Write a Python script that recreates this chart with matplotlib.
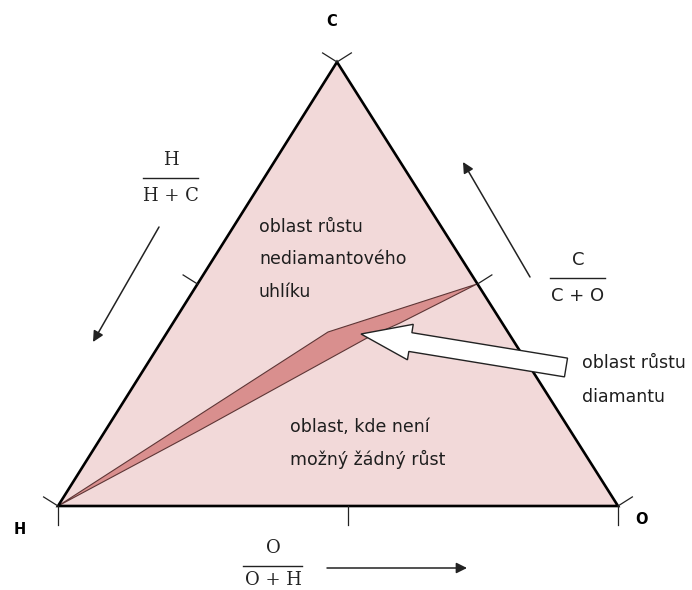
import numpy as np
import matplotlib.pyplot as plt
from matplotlib.patches import Polygon, FancyArrow

# vrcholy trojúhelníku (pixely obrázku, y dolů)
vertex_names = ["H", "O", "C"]
vertex_x = [58, 618, 337]
vertex_y = [506, 506, 62]

# oblast růstu diamantu (horní hrana, pak dolní hrana zpět k H)
diamond_x = [58, 328, 477, 400, 367, 200]
diamond_y = [506, 332, 284, 323, 338, 430]

# polohy značek na hranách (podíl délky hrany)
edge_ticks = {("H", "O"): [0, 0.518, 1],
              ("O", "C"): [0, 0.5, 1],
              ("C", "H"): [0, 0.5, 1]}

tri_fill = "#f2d9d9"
diamond_fill = "#d98f8e"

fig = plt.figure(figsize=(6.92, 5.90), dpi=100)
ax = fig.add_axes([0, 0, 1, 1])
ax.set_xlim(0, 692)
ax.set_ylim(590, 0)
ax.axis("off")

pts = dict(zip(vertex_names, zip(vertex_x, vertex_y)))
tri = np.array([pts[n] for n in vertex_names], dtype=float)
centroid = tri.mean(axis=0)

ax.add_patch(Polygon(tri, closed=True, fc=tri_fill, ec="none", zorder=1))
ax.add_patch(Polygon(np.column_stack([diamond_x, diamond_y]), closed=True,
                     fc=diamond_fill, ec="#5e3636", lw=0.8, zorder=2))
ax.add_patch(Polygon(tri, closed=True, fc="none", ec="black", lw=1.9,
                     joinstyle="miter", zorder=3))

# značky kolmo ven z hran
for (a, b), fracs in edge_ticks.items():
    p = np.array(pts[a], float)
    q = np.array(pts[b], float)
    d = (q - p) / np.linalg.norm(q - p)
    n = np.array([-d[1], d[0]])
    mid = (p + q) / 2
    if np.dot(n, mid - centroid) < 0:
        n = -n
    length = 19 if a == "H" and b == "O" else 17
    for f in fracs:
        s = p + f * (q - p)
        e = s + n * length
        ax.plot([s[0], e[0]], [s[1], e[1]], color="#222222", lw=0.9, zorder=3)

# popisky vrcholů
ax.text(332, 22, "C", fontsize=10.5, fontweight="bold", ha="center", va="center")
ax.text(20, 530, "H", fontsize=10.5, fontweight="bold", ha="center", va="center")
ax.text(641, 520, "O", fontsize=10.5, fontweight="bold", ha="center", va="center")

# popisky oblastí
txt = dict(fontsize=12.5, color="#1e1e1e", ha="left", va="baseline",
           family="DejaVu Sans", linespacing=1.0)
for i, line in enumerate(["oblast růstu", "nediamantového", "uhlíku"]):
    ax.text(259, 232 + i * 32.5, line, **txt)
for i, line in enumerate(["oblast, kde není", "možný žádný růst"]):
    ax.text(290, 432 + i * 33, line, **txt)
for i, line in enumerate(["oblast růstu", "diamantu"]):
    ax.text(582, 368 + i * 34, line, **txt)


def fraction(xc, y_num, y_line, y_den, num, den, x0, x1, family):
    ax.text(xc, y_num, num, fontsize=13, family=family, ha="center",
            va="center", color="#222222")
    ax.text(xc, y_den, den, fontsize=13, family=family, ha="center",
            va="center", color="#222222")
    ax.plot([x0, x1], [y_line, y_line], color="#222222", lw=1.0)


fraction(171, 160, 178, 196, "H", "H + C", 143, 198, "DejaVu Serif")
fraction(578, 260, 278, 296, "C", "C + O", 550, 605, "DejaVu Sans")
fraction(273, 548, 566, 580, "O", "O + H", 243, 302, "DejaVu Serif")

# tenké šipky směru
arrow_kw = dict(arrowstyle="-|>", lw=1.1, color="#222222", mutation_scale=16,
                shrinkA=0, shrinkB=0)
ax.annotate("", xy=(93, 342), xytext=(159, 227), arrowprops=arrow_kw)
ax.annotate("", xy=(463, 162), xytext=(530, 277), arrowprops=arrow_kw)
ax.annotate("", xy=(467, 568), xytext=(327, 568), arrowprops=arrow_kw)

# bílá bloková šipka k oblasti diamantu
tail = np.array([566, 367.5])
tip = np.array([361, 334])
ax.add_patch(FancyArrow(tail[0], tail[1], tip[0] - tail[0], tip[1] - tail[1],
                        width=19, head_width=36, head_length=50,
                        length_includes_head=True, fc="white", ec="#222222",
                        lw=1.0, zorder=4))

fig.savefig("out.png", dpi=100)
